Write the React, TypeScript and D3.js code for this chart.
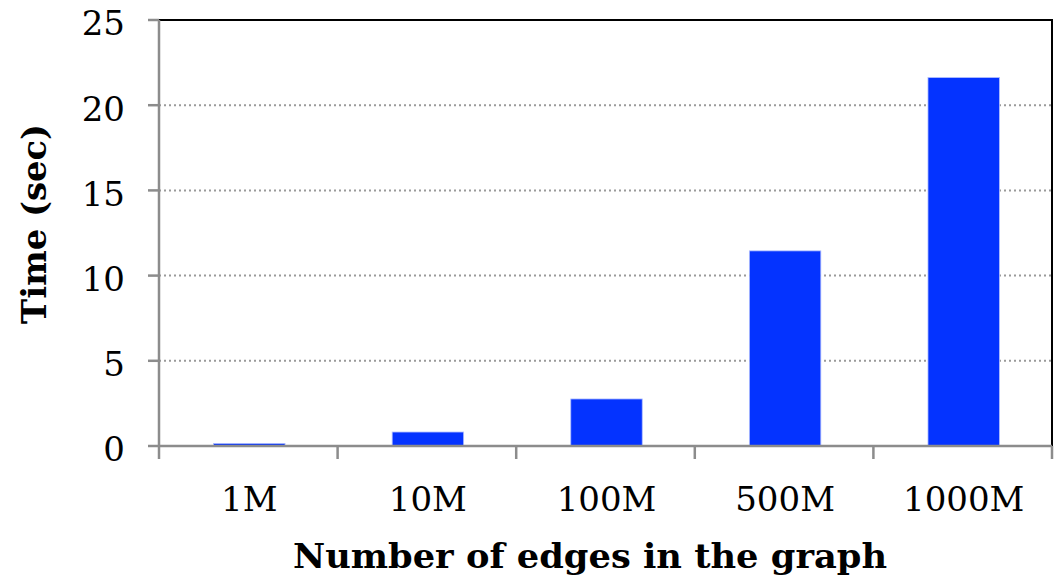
import React from "react";
import * as d3 from "d3";

const categories = ["1M", "10M", "100M", "500M", "1000M"];
const timeSec = [0.15, 0.82, 2.76, 11.45, 21.62];
const yTicks = [0, 5, 10, 15, 20, 25];

const W = 1057;
const H = 576;
const margin = { left: 159, right: 5, top: 20, bottom: 130 };
const FONT = "'DejaVu Serif', 'Liberation Serif', serif";

export default function App() {
  const x = d3
    .scaleBand<string>()
    .domain(categories)
    .range([margin.left, W - margin.right])
    .paddingInner(0.6)
    .paddingOuter(0.3);
  const y = d3.scaleLinear().domain([0, 25]).range([H - margin.bottom, margin.top]);
  const step = x.step();
  const x0 = margin.left;
  const x1 = W - margin.right;
  const yb = y(0);
  const yt = y(25);
  const boundaries = d3.range(categories.length + 1).map((i) => x0 + ((x1 - x0) * i) / categories.length);

  return (
    <svg width={W} height={H} style={{ position: "absolute", left: 0, top: 0, background: "#fff" }}>
      {/* gridlines */}
      {yTicks.filter((t) => t > 0).map((t) => (
        <line key={"g" + t} x1={x0} x2={x1} y1={y(t)} y2={y(t)} stroke="#9a9a9a" strokeWidth={2} strokeDasharray="2,3" />
      ))}
      {/* frame top & right */}
      <line x1={x0} x2={x1 + 1} y1={yt} y2={yt} stroke="#000" strokeWidth={2} />
      <line x1={x1} x2={x1} y1={yt} y2={yb} stroke="#000" strokeWidth={2} />
      {/* bars */}
      {categories.map((c, i) => (
        <rect
          key={c}
          x={boundaries[i] + (step - x.bandwidth()) / 2 + 1}
          width={x.bandwidth()}
          y={y(timeSec[i])}
          height={yb - y(timeSec[i])}
          fill="#0433FF"
          stroke="#aebcff"
          strokeWidth={0.8}
        />
      ))}
      {/* y axis */}
      <line x1={x0} x2={x0} y1={yt} y2={yb} stroke="#8c8c8c" strokeWidth={2.5} />
      {yTicks.map((t) => (
        <g key={"y" + t}>
          <line x1={x0 - 11} x2={x0} y1={y(t)} y2={y(t)} stroke="#8c8c8c" strokeWidth={2.5} />
          <text x={125} y={y(t)} dy="0.45em" textAnchor="end" fontFamily={FONT} fontSize={34}>
            {t}
          </text>
        </g>
      ))}
      {/* x axis */}
      <line x1={x0} x2={x1} y1={yb} y2={yb} stroke="#8c8c8c" strokeWidth={2.5} />
      {boundaries.map((b, i) => (
        <line key={"xt" + i} x1={b} x2={b} y1={yb} y2={yb + 13} stroke="#8c8c8c" strokeWidth={2.5} />
      ))}
      {categories.map((c, i) => (
        <text key={"xl" + c} x={boundaries[i] + step / 2 + 1} y={511} textAnchor="middle" fontFamily={FONT} fontSize={34}>
          {c}
        </text>
      ))}
      <text
        x={590}
        y={568}
        textAnchor="middle"
        fontFamily={FONT}
        fontSize={33}
        fontWeight="bold"
        textLength={594}
        lengthAdjust="spacingAndGlyphs"
      >
        Number of edges in the graph
      </text>
      <text
        transform={`translate(46,224) rotate(-90)`}
        textAnchor="middle"
        fontFamily={FONT}
        fontSize={34}
        fontWeight="bold"
        textLength={200}
        lengthAdjust="spacingAndGlyphs"
      >
        Time (sec)
      </text>
    </svg>
  );
}
